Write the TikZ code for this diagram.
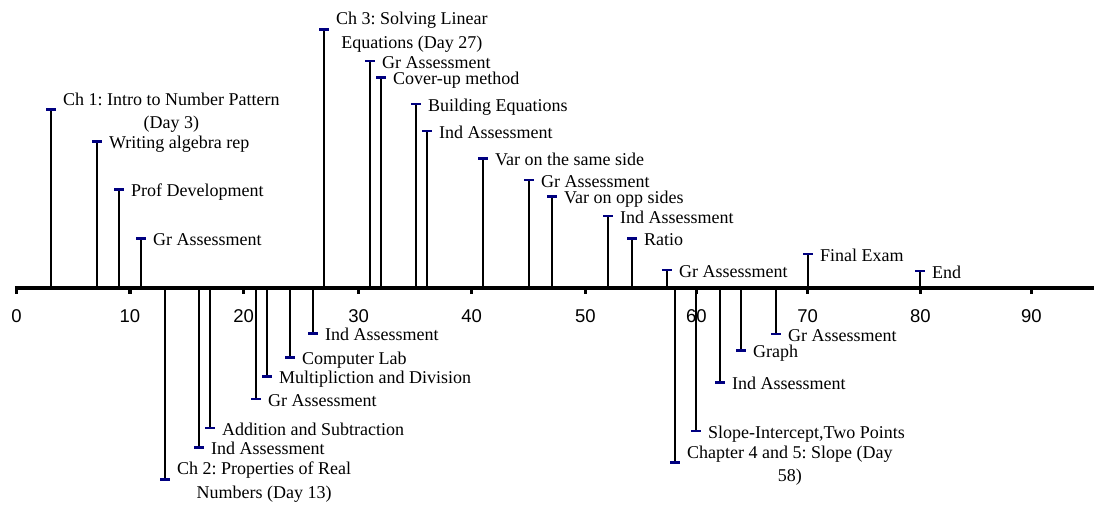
\documentclass[tikz,border=0pt]{standalone}
\usepackage{fontspec}
\setmainfont{Liberation Serif}
\newfontfamily\axisfont{Liberation Sans}
\definecolor{markblue}{RGB}{0,0,128}
\frenchspacing
\begin{document}
\begin{tikzpicture}[x=1pt,y=-1pt,
  stem/.style={line width=1.5pt,black},
  marker/.style={fill=markblue,draw=none,inner sep=0pt,minimum width=10pt,minimum height=2.6pt},
  lab/.style={anchor=base west,inner sep=0pt,font=\fontsize{18}{23.5}\selectfont},
  axisline/.style={line width=4pt,black},
  tickmark/.style={line width=3.5pt,black},
  ticklab/.style={inner sep=0pt,font=\axisfont\fontsize{18.5}{20}\selectfont}]
\useasboundingbox (0,0) rectangle (1094,504);
% events: x / marker y / baseline offset / label
\def\events{
  51/109.5/-4.5/{\begin{tabular}[t]{@{}c@{}}Ch 1: Intro to Number Pattern\\(Day 3)\end{tabular}},
  97/141.7/7/{Writing algebra rep},
  119/189.3/7/{Prof Development},
  141/238.3/7/{Gr Assessment},
  324/29.3/-4.5/{\begin{tabular}[t]{@{}c@{}}Ch 3: Solving Linear\\Equations (Day 27)\end{tabular}},
  370/61/7/{Gr Assessment},
  381/77.7/7/{Cover-up method},
  416/104/7/{Building Equations},
  427/131/7/{Ind Assessment},
  483/158.3/7/{Var on the same side},
  529/180/7/{Gr Assessment},
  552/196.7/7/{Var on opp sides},
  608/216/7/{Ind Assessment},
  632/238.3/7/{Ratio},
  667/270/7/{Gr Assessment},
  808/254/7/{Final Exam},
  920/271/7/{End},
  165/479.3/-4.5/{\begin{tabular}[t]{@{}c@{}}Ch 2: Properties of Real\\Numbers (Day 13)\end{tabular}},
  199/447.3/7/{Ind Assessment},
  210/428/7/{Addition and Subtraction},
  256/399/7/{Gr Assessment},
  267/376.7/7/{Multipliction and Division},
  290/357.3/7/{Computer Lab},
  313/333.3/7/{Ind Assessment},
  675/462.7/-4.5/{\begin{tabular}[t]{@{}c@{}}Chapter 4 and 5: Slope (Day\\58)\end{tabular}},
  696/431/7/{Slope-Intercept,Two Points},
  720/382.3/7/{Ind Assessment},
  741/350.7/7/{Graph},
  776/334/7/{Gr Assessment}}
% stems
\foreach \x/\y/\d/\t [count=\i] in \events {
  \coordinate (a\i) at (\x,287.5);
  \coordinate (t\i) at (\x,\y);
  \draw[stem] (a\i) -- (t\i);
}
% axis and ticks
\coordinate (axL) at (14.75,287.5);
\coordinate (axR) at (1094,287.5);
\draw[axisline] (axL) -- (axR);
\foreach \tx/\tl [count=\k] in {16.5/0,130/10,243.7/20,358.7/30,471.7/40,585.3/50,696.3/60,807.7/70,920.3/80,1031.3/90} {
  \coordinate (tk\k) at (\tx,286);
  \coordinate (tb\k) at (\tx,294);
  \draw[tickmark] (tk\k) -- (tb\k);
  \node[ticklab] (tl\k) at (\tx,316) {\tl};
}
% markers and labels
\foreach \x/\y/\d/\t [count=\i] in \events {
  \node[marker] (m\i) at (t\i) {};
  \node[lab] (l\i) at (\x+12,\y+\d) {\t};
}
\end{tikzpicture}
\end{document}
